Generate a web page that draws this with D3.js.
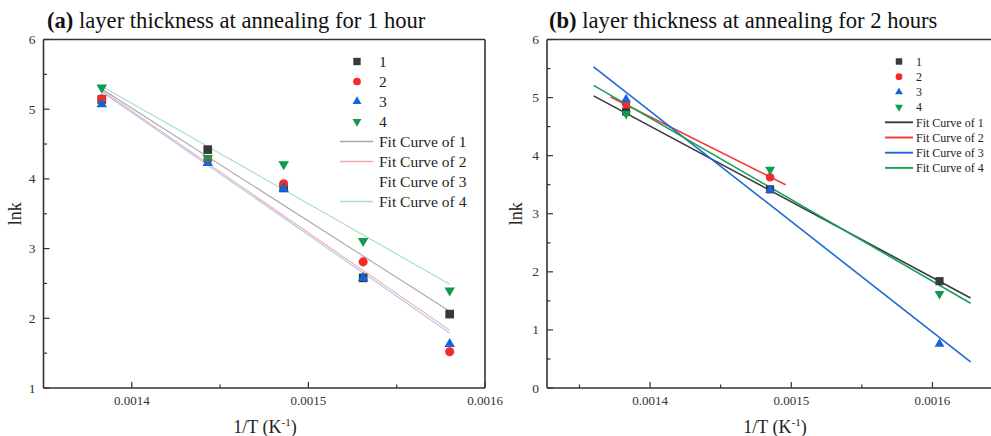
<!DOCTYPE html>
<html><head><meta charset="utf-8">
<script src="https://cdn.jsdelivr.net/npm/d3@7"></script>
<style>body{margin:0;background:#fff}svg{display:block}text{font-family:"Liberation Serif","Times New Roman",serif}</style>
</head><body><svg id="c" width="991" height="436"></svg>
<script>
// ---------- data ----------
const xLeft = [0.001383, 0.001443, 0.001486, 0.001531, 0.001580];
const leftS1 = [5.14, 4.42, 3.87, 2.58, 2.06];
const leftS2 = [5.15, 4.27, 3.93, 2.81, 1.52];
const leftS3 = [5.07, 4.23, 3.86, 2.58, 1.63];
const leftS4 = [5.31, 4.30, 4.21, 3.11, 2.40];
const leftFitX = [0.001383, 0.001580];
const leftFit1 = [5.29, 2.10];
const leftFit2 = [5.27, 1.83];
const leftFit3 = [5.25, 1.79];
const leftFit4 = [5.33, 2.49];

const xRight = [0.001383, 0.001485, 0.001605];
const rightS1 = [4.76, 3.42, 1.84];
const rightS2 = [4.89, 3.63, null];
const rightS3 = [4.97, 3.41, 0.76];
const rightS4 = [4.72, 3.76, 1.62];
const rightFitX1 = [0.001360, 0.001627];
const rightFit1 = [5.03, 1.55];
const rightFitX2 = [0.001372, 0.001496];
const rightFit2 = [5.01, 3.50];
const rightFit3 = [5.53, 0.45];
const rightFit4 = [5.21, 1.46];

const seriesNames = ["1", "2", "3", "4"];
const fitNames = ["Fit Curve of 1", "Fit Curve of 2", "Fit Curve of 3", "Fit Curve of 4"];
const xTicksMajor = [0.0014, 0.0015, 0.0016];
const xTicksMinor = [0.00135, 0.00145, 0.00155, 0.00165];
const titleA = ["(a)", " layer thickness at annealing for 1 hour"];
const titleB = ["(b)", " layer thickness at annealing for 2 hours"];

// ---------- styles ----------
const symColors = ["#3a3a3a", "#f52a2a", "#1565d8", "#0f9a50"];
const fitLightColors = ["#a8a8a8", "#f7a9a9", "#a9c8f2", "#a6dfc2"];
const fitColors = ["#3a3a3a", "#f53a3a", "#1a6ad8", "#17a05a"];
const axisColor = "#333";

const svg = d3.select("#c");

function symbolPath(i, scale) {
  const types = [d3.symbolSquare, d3.symbolCircle, d3.symbolTriangle, d3.symbolTriangle];
  const sizes = [60, 52, 38, 38];
  return d3.symbol().type(types[i]).size(sizes[i] * scale)();
}

function panel(opt) {
  const g = svg.append("g");
  const x = d3.scaleLinear().domain(opt.xDomain).range([opt.left, opt.right]);
  const y = d3.scaleLinear().domain(opt.yDomain).range([opt.bottom, opt.top]);

  // fit lines
  opt.fits.forEach((f, i) => {
    if (!f) return;
    const pts = f.x.map((xv, k) => [x(xv), y(f.y[k])]);
    g.append("path").attr("d", d3.line()(pts)).attr("fill", "none")
      .attr("stroke", opt.fitColors[i]).attr("stroke-width", opt.fitWidth);
  });
  // points
  opt.series.forEach((s, i) => {
    s.forEach((v, k) => {
      if (v == null) return;
      g.append("path").attr("d", symbolPath(i, opt.symScale))
        .attr("transform", `translate(${x(opt.xs[k])},${y(v)})` + (i === 3 ? " rotate(180)" : ""))
        .attr("fill", symColors[i]);
    });
  });

  // frame
  const fr = g.append("g").attr("stroke", axisColor).attr("stroke-width", 1.6).attr("fill", "none");
  fr.append("line").attr("x1", opt.left).attr("x2", opt.right).attr("y1", opt.bottom).attr("y2", opt.bottom);
  fr.append("line").attr("x1", opt.left).attr("x2", opt.right).attr("y1", opt.top).attr("y2", opt.top);
  fr.append("line").attr("x1", opt.left).attr("x2", opt.left).attr("y1", opt.top).attr("y2", opt.bottom);
  fr.append("line").attr("x1", opt.right).attr("x2", opt.right).attr("y1", opt.top).attr("y2", opt.bottom);

  // x ticks (inward)
  const xt = g.append("g").attr("stroke", axisColor).attr("stroke-width", 1.2);
  xTicksMajor.forEach(t => {
    if (x(t) > opt.right + 1) return;
    xt.append("line").attr("x1", x(t)).attr("x2", x(t)).attr("y1", opt.bottom).attr("y2", opt.bottom - 6);
  });
  xTicksMinor.forEach(t => {
    if (x(t) > opt.right - 1 || x(t) < opt.left + 1) return;
    xt.append("line").attr("x1", x(t)).attr("x2", x(t)).attr("y1", opt.bottom).attr("y2", opt.bottom - 3.5);
  });
  xTicksMajor.forEach(t => {
    g.append("text").attr("x", x(t)).attr("y", opt.bottom + 17).attr("text-anchor", "middle")
      .attr("font-size", 13).attr("fill", "#333").text(d3.format(".4f")(t));
  });
  // y ticks
  const yt = g.append("g").attr("stroke", axisColor).attr("stroke-width", 1.2);
  const yMaj = d3.range(opt.yDomain[0], opt.yDomain[1] + 0.001, 1);
  const yMin = d3.range(opt.yDomain[0] + 0.5, opt.yDomain[1], 1);
  yMaj.forEach(t => {
    yt.append("line").attr("x1", opt.left).attr("x2", opt.left + 6).attr("y1", y(t)).attr("y2", y(t));
    g.append("text").attr("x", opt.left - 8).attr("y", y(t) + 4.5).attr("text-anchor", "end")
      .attr("font-size", 13.5).attr("fill", "#333").text(t);
  });
  yMin.forEach(t => {
    yt.append("line").attr("x1", opt.left).attr("x2", opt.left + 3.5).attr("y1", y(t)).attr("y2", y(t));
  });

  // axis titles
  g.append("text").attr("transform", `translate(${opt.ylabX},${(opt.top + opt.bottom) / 2}) rotate(-90)`)
    .attr("text-anchor", "middle").attr("font-size", 18).attr("fill", "#222").text("lnk");
  const xl = g.append("text").attr("x", opt.xlabX).attr("y", 433).attr("text-anchor", "middle")
    .attr("font-size", 18).attr("fill", "#222");
  xl.append("tspan").text("1/T (K");
  xl.append("tspan").attr("font-size", 11).attr("dy", -7).text("-1");
  xl.append("tspan").attr("dy", 7).text(")");

  // title
  const tt = g.append("text").attr("x", opt.titleX).attr("y", 28).attr("font-size", 22.6).attr("fill", "#111");
  tt.append("tspan").attr("font-weight", "bold").text(opt.title[0]);
  tt.append("tspan").text(opt.title[1]);

  // legend
  const L = opt.legend;
  const lg = g.append("g");
  seriesNames.forEach((n, i) => {
    const yy = L.y0 + i * L.dy;
    lg.append("path").attr("d", symbolPath(i, L.symScale))
      .attr("transform", `translate(${L.symX},${yy})` + (i === 3 ? " rotate(180)" : ""))
      .attr("fill", symColors[i]);
    lg.append("text").attr("x", L.textX).attr("y", yy + L.fs * 0.35).attr("font-size", L.fs)
      .attr("fill", "#222").text(n);
  });
  fitNames.forEach((n, i) => {
    const yy = L.y0 + (i + 4) * L.dy;
    if (L.showLine[i]) {
      lg.append("line").attr("x1", L.lineX0).attr("x2", L.lineX1).attr("y1", yy).attr("y2", yy)
        .attr("stroke", opt.fitColors[i]).attr("stroke-width", opt.fitWidth + 0.3);
    }
    lg.append("text").attr("x", L.textX).attr("y", yy + L.fs * 0.35).attr("font-size", L.fs)
      .attr("fill", "#222").text(n);
  });
}

panel({
  left: 43.5, right: 485, top: 39.5, bottom: 388,
  xDomain: [0.00135, 0.0016], yDomain: [1, 6],
  xs: xLeft, series: [leftS1, leftS2, leftS3, leftS4],
  fits: [
    { x: leftFitX, y: leftFit1 }, { x: leftFitX, y: leftFit2 },
    { x: leftFitX, y: leftFit3 }, { x: leftFitX, y: leftFit4 }],
  fitColors: fitLightColors, fitWidth: 1.1, symScale: 1.25,
  ylabX: 21, xlabX: 265, titleX: 47, title: titleA,
  legend: { symX: 357, textX: 379, lineX0: 340, lineX1: 373, y0: 61.5, dy: 20, fs: 15.5, symScale: 0.9,
            showLine: [true, true, false, true] }
});

panel({
  left: 547, right: 996, top: 39.5, bottom: 388,
  xDomain: [0.001327, 0.001645], yDomain: [0, 6],
  xs: xRight, series: [rightS1, rightS2, rightS3, rightS4],
  fits: [
    { x: rightFitX1, y: rightFit1 }, { x: rightFitX2, y: rightFit2 },
    { x: rightFitX1, y: rightFit3 }, { x: rightFitX1, y: rightFit4 }],
  fitColors: fitColors, fitWidth: 1.6, symScale: 1.1,
  ylabX: 522, xlabX: 775, titleX: 549, title: titleB,
  legend: { symX: 899, textX: 916, lineX0: 885, lineX1: 913, y0: 61.5, dy: 15.2, fs: 12, symScale: 0.7,
            showLine: [true, true, true, true] }
});
</script></body></html>
